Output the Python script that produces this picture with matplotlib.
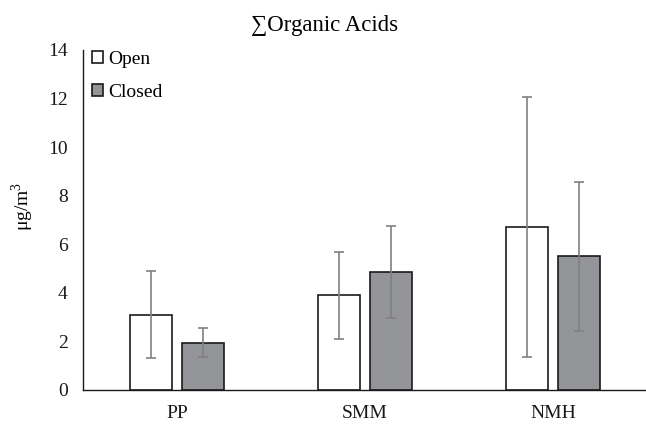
import numpy as np
import matplotlib
matplotlib.use('Agg')
import matplotlib.pyplot as plt

# values
sites      = ['PP', 'SMM', 'NMH']
open_mean  = [3.1, 3.9, 6.7]
open_err   = [1.8, 1.78, 5.35]
closed_mean = [1.95, 4.85, 5.5]
closed_err  = [0.6, 1.9, 3.05]
yticks     = [0, 2, 4, 6, 8, 10, 12, 14]

plt.rcParams['font.family'] = ['Liberation Serif', 'DejaVu Serif']
plt.rcParams['mathtext.fontset'] = 'custom'
plt.rcParams['mathtext.rm'] = 'Liberation Serif'

fig = plt.figure(figsize=(6.46, 4.24), dpi=100)
ax = fig.add_axes([83/646, 34/424, 564/646, 340/424])

x = np.arange(len(sites))
w = 0.223
off = 0.14
err_kw = dict(ecolor='#808080', elinewidth=1.2, capsize=3.8, capthick=1.2)

ax.bar(x - off, open_mean, w, yerr=open_err, color='white', edgecolor='#1a1a1a',
       linewidth=1.2, label='Open', error_kw=err_kw)
ax.bar(x + off, closed_mean, w, yerr=closed_err, color='#939598', edgecolor='#1a1a1a',
       linewidth=1.2, label='Closed', error_kw=err_kw)

ax.set_xlim(-0.5, 2.5)
ax.set_ylim(0, 14)
ax.set_yticks(yticks)
ax.set_xticks(x)
ax.set_xticklabels(sites)
ax.tick_params(axis='both', length=0, labelsize=14, colors='#1a1a1a')
ax.tick_params(axis='y', pad=11)
ax.tick_params(axis='x', pad=11)

for s in ['top', 'right']:
    ax.spines[s].set_visible(False)
for s in ['left', 'bottom']:
    ax.spines[s].set_color('#1a1a1a')
    ax.spines[s].set_linewidth(1.0)

ax.set_ylabel('μg/m$^3$', fontsize=14)
ax.yaxis.set_label_coords(-0.083, 0.54)

# title sits over the figure centre, not the axes
fig.text(0.503, 1 - 25/424, '∑Organic Acids', fontsize=16.5, ha='center', va='center')

ax.legend(loc='upper left', bbox_to_anchor=(0.016, 0.998), frameon=False,
          fontsize=14, borderpad=0, borderaxespad=0, handlelength=0.55,
          handleheight=0.55, handletextpad=0.3, labelspacing=0.85)

fig.savefig('out.png', dpi=100)
